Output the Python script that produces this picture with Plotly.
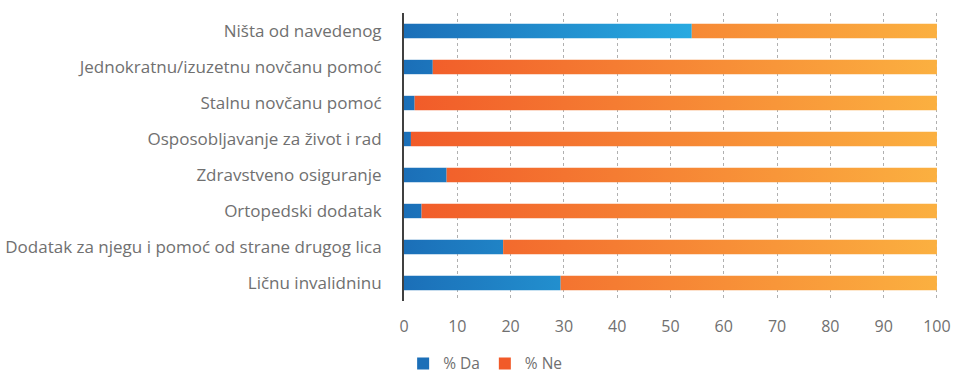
import plotly.graph_objects as go

# Survey categories, listed top to bottom
categories = [
    "Ništa od navedenog",
    "Jednokratnu/izuzetnu novčanu pomoć",
    "Stalnu novčanu pomoć",
    "Osposobljavanje za život i rad",
    "Zdravstveno osiguranje",
    "Ortopedski dodatak",
    "Dodatak za njegu i pomoć od strane drugog lica",
    "Ličnu invalidninu",
]
da_pct = [54.0, 5.4, 2.0, 1.3, 8.0, 3.3, 18.6, 29.4]
ne_pct = [round(100 - v, 1) for v in da_pct]
series_names = ["% Da", "% Ne"]
x_ticks = [0, 10, 20, 30, 40, 50, 60, 70, 80, 90, 100]

FONT = "'Open Sans', Calibri, Lato, sans-serif"
TEXT = "#707070"
BLUE = ["#1B6FB8", "#28AAE1"]
ORANGE = ["#F15A29", "#FBB040"]
HALF = 0.2  # half bar thickness in category units

n = len(categories)
ypos = [n - 1 - i for i in range(n)]  # first category at the top

fig = go.Figure()


def add_segment(x0, x1, y, colors, start, stop, name):
    fig.add_trace(go.Scatter(
        x=[x0, x1, x1, x0, x0],
        y=[y - HALF, y - HALF, y + HALF, y + HALF, y - HALF],
        mode="lines", line=dict(width=0), fill="toself",
        fillgradient=dict(type="horizontal", start=start, stop=stop,
                          colorscale=[[0, colors[0]], [1, colors[1]]]),
        name=name, showlegend=False, hoverinfo="skip",
    ))


da_max = max(da_pct)
for y, da, ne in zip(ypos, da_pct, ne_pct):
    add_segment(0, da, y, BLUE, 0, da_max, series_names[0])
    add_segment(da, da + ne, y, ORANGE, 0, 100, series_names[1])

# legend swatches
for name, cols in zip(series_names, [BLUE, ORANGE]):
    fig.add_trace(go.Bar(x=[None], y=[None], orientation="h", name=name,
                         marker=dict(color=cols[0], line=dict(width=0))))

fig.update_layout(
    width=955, height=377,
    margin=dict(l=404, r=17, t=13, b=76, autoexpand=False),
    paper_bgcolor="white", plot_bgcolor="white",
    font=dict(family=FONT, color=TEXT, size=16),
    showlegend=True,
    legend=dict(orientation="h", xref="container", yref="container",
                x=0.508, xanchor="center", y=0.035, yanchor="middle",
                font=dict(size=15.5, color=TEXT), itemwidth=30,
                traceorder="normal"),
    xaxis=dict(range=[0, 100.2], tickvals=x_ticks, showgrid=True,
               gridcolor="#b0b0b0", griddash="dot", gridwidth=1,
               zeroline=False, showline=False, ticks="", automargin=False,
               ticklabelstandoff=14, tickfont=dict(size=16, color=TEXT),
               fixedrange=True),
    yaxis=dict(range=[-0.5, n - 0.5], tickvals=ypos, ticktext=categories,
               showgrid=False, zeroline=False, showline=True,
               linecolor="#404040", linewidth=2, ticks="", automargin=False,
               ticklabelstandoff=17, tickfont=dict(size=17, color=TEXT),
               fixedrange=True),
)

fig.write_html("out.html")
